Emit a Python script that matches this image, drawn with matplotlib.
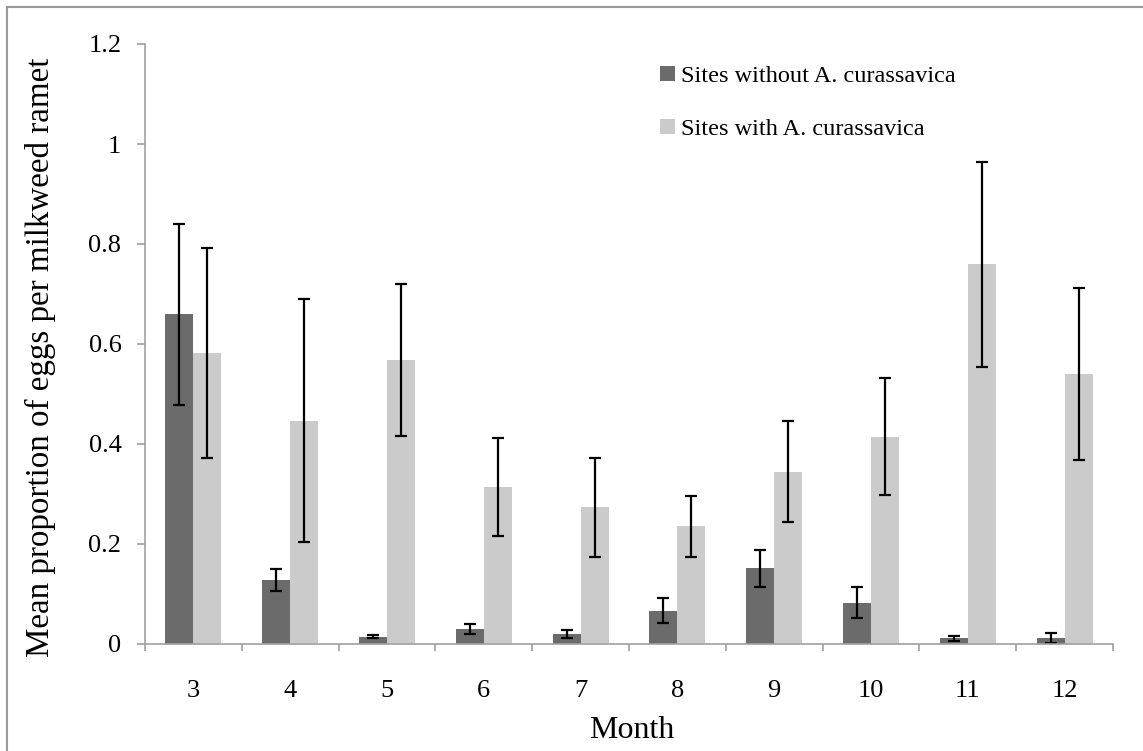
import numpy as np
import matplotlib
matplotlib.use("Agg")
import matplotlib.pyplot as plt
from matplotlib.patches import Patch
from matplotlib.lines import Line2D

plt.rcParams["font.family"] = ["Liberation Serif", "DejaVu Serif"]

months = ["3", "4", "5", "6", "7", "8", "9", "10", "11", "12"]
without_mean = [0.660, 0.129, 0.015, 0.030, 0.021, 0.067, 0.152, 0.083, 0.012, 0.013]
without_err  = [0.181, 0.022, 0.003, 0.010, 0.008, 0.025, 0.037, 0.031, 0.005, 0.010]
with_mean    = [0.582, 0.447, 0.568, 0.314, 0.274, 0.236, 0.345, 0.415, 0.760, 0.540]
with_err     = [0.210, 0.243, 0.152, 0.098, 0.099, 0.061, 0.101, 0.117, 0.205, 0.172]

labels = ["Sites without A. curassavica", "Sites with A. curassavica"]
colors = ["#6b6b6b", "#cbcbcb"]

W, H = 1143, 751
fig = plt.figure(figsize=(W / 100, H / 100), dpi=100)
ax = fig.add_axes([145 / W, 1 - 644 / H, (1113 - 145) / W, (644 - 44) / H])

x = np.arange(len(months))
bw = 0.29
err_kw = dict(ecolor="black", elinewidth=1.6, capsize=4.2, capthick=1.6)
ax.bar(x - bw / 2, without_mean, bw, color=colors[0], yerr=without_err,
       error_kw=err_kw, zorder=2)
ax.bar(x + bw / 2, with_mean, bw, color=colors[1], yerr=with_err,
       error_kw=err_kw, zorder=2)

ax.set_xlim(-0.5, len(months) - 0.5)
ax.set_ylim(0, 1.2)
ax.set_yticks(np.arange(0, 1.21, 0.2))
ax.set_yticklabels(["0", "0.2", "0.4", "0.6", "0.8", "1", "1.2"])

# category boundaries as major ticks, labels on minor ticks
ax.set_xticks(np.arange(-0.5, len(months), 1.0))
ax.set_xticklabels([])
ax.set_xticks(x, minor=True)
ax.set_xticklabels(months, minor=True)

spine_c = "#a0a0a0"
for s in ["top", "right"]:
    ax.spines[s].set_visible(False)
for s in ["left", "bottom"]:
    ax.spines[s].set_color(spine_c)
    ax.spines[s].set_linewidth(1.2)
ax.tick_params(axis="y", direction="out", length=6, width=1.2, color=spine_c,
               labelsize=19, pad=11)
ax.tick_params(axis="x", which="major", direction="out", length=5, width=1.2,
               color=spine_c)
ax.tick_params(axis="x", which="minor", length=0, labelsize=19, pad=26)

fig.text(632 / W, 1 - 730 / H, "Month", ha="center", va="center", fontsize=23)
fig.text(40 / W, 1 - 357 / H, "Mean proportion of eggs per milkweed ramet",
         ha="center", va="center", rotation=90, fontsize=23.8)

handles = [Patch(facecolor=c, edgecolor="none") for c in colors]
ax.legend(handles, labels, loc="upper left", bbox_to_anchor=(660 / W, 1 - 66 / H),
          bbox_transform=fig.transFigure, frameon=False, fontsize=17.5,
          borderpad=0, borderaxespad=0, handlelength=0.6, handleheight=0.6,
          handletextpad=0.25, labelspacing=1.3)

# frame of the original figure
fig.add_artist(Line2D([7 / W, 7 / W], [0, 1 - 7 / H], transform=fig.transFigure,
                      color="#999999", lw=1.5))
fig.add_artist(Line2D([7 / W, 1], [1 - 7 / H, 1 - 7 / H], transform=fig.transFigure,
                      color="#999999", lw=1.5))

fig.savefig("out.png", dpi=100)
